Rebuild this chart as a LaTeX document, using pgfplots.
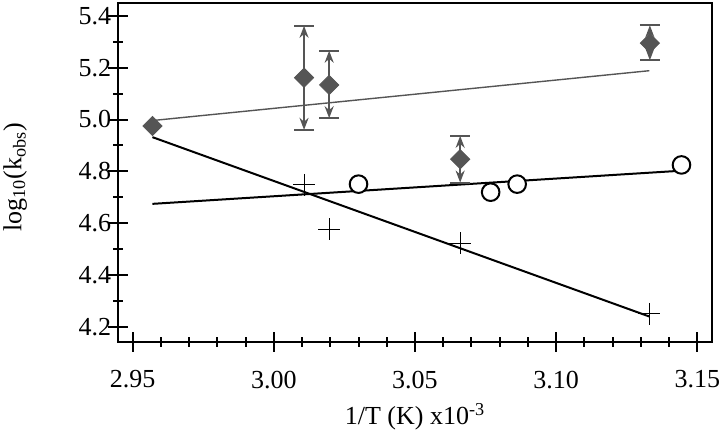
\documentclass[border=0pt]{standalone}
\usepackage{fontspec}
\setmainfont{Liberation Serif}
\usepackage{pgfplots}
\pgfplotsset{compat=1.18}
\usetikzlibrary{arrows.meta}
\definecolor{dg}{HTML}{555555}
\begin{document}
\begin{tikzpicture}
\begin{axis}[name=ax, scale only axis, width=296.7pt, height=169.5pt,
 xmin=2.9449, xmax=3.1551, ymin=4.144, ymax=5.45,
 axis line style={line width=1pt},
 xtick={2.95,3,3.05,3.1,3.15}, minor x tick num=4,
 ytick={4.2,4.4,4.6,4.8,5.0,5.2,5.4}, minor y tick num=1,
 tick align=center, xtick pos=bottom, ytick pos=left,
 major tick length=10pt, minor tick length=5pt,
 every tick/.style={black, line width=1pt},
 xticklabel style={/pgf/number format/fixed, /pgf/number format/fixed zerofill, /pgf/number format/precision=2, yshift=-6pt},
 yticklabel style={/pgf/number format/fixed, /pgf/number format/fixed zerofill, /pgf/number format/precision=1, xshift=5pt},
 /pgf/number format/assume math mode=true,
 tick label style={font=\fontsize{13}{15}\selectfont},
 label style={font=\fontsize{13}{15}\selectfont},
 xlabel={1/T (K) x10\textsuperscript{-3}},
 ylabel={log\textsubscript{10}(k\textsubscript{obs})},
 xlabel style={at={(axis description cs:0.5,-0.222)}, anchor=center},
 ylabel style={at={(axis description cs:-0.174,0.486)}, anchor=center},
]
\addplot[dg, line width=0.7pt] coordinates {(2.957,4.996) (3.133,5.188)};
\addplot[black, line width=1pt] coordinates {(2.957,4.932) (3.133,4.241)};
\addplot[black, line width=1pt] coordinates {(2.957,4.675) (3.1447,4.803)};
\addplot[only marks, mark=+, mark size=5.5pt, mark options={line width=0.5pt, black}] coordinates {
(3.0107,4.748) (3.0196,4.577) (3.066,4.523) (3.133,4.251)};
\addplot[only marks, mark=*, mark size=4.4pt, mark options={line width=1pt, draw=black, fill=white}] coordinates {
(3.030,4.751) (3.0768,4.720) (3.0862,4.751) (3.1444,4.825)};
\addplot[only marks, mark=none, draw=none,
 error bars/.cd, y dir=both, y explicit,
 error bar style={dg, line width=1pt, -{Stealth[length=6pt,width=4.5pt]}},
 error mark options={rotate=90, dg, line width=1pt, mark size=5pt}]
 table[x=x, y=y, y error plus=ep, y error minus=em] {
x y ep em
3.0107 5.161 0.200 0.201
3.0196 5.133 0.132 0.128
3.066 4.847 0.090 0.090
3.1332 5.294 0.069 0.066
};
\addplot[only marks, mark=square*, mark size=3.4pt, mark options={rotate=45, fill=dg, draw=dg}] coordinates {
(2.957,4.975) (3.0107,5.161) (3.0196,5.133) (3.066,4.847) (3.1332,5.294)};
\end{axis}
\pgfresetboundingbox
\path ([shift={(-59.15pt,-47.65pt)}]ax.south west) rectangle ([shift={(4.15pt,1.35pt)}]ax.north east);
\end{tikzpicture}
\end{document}
